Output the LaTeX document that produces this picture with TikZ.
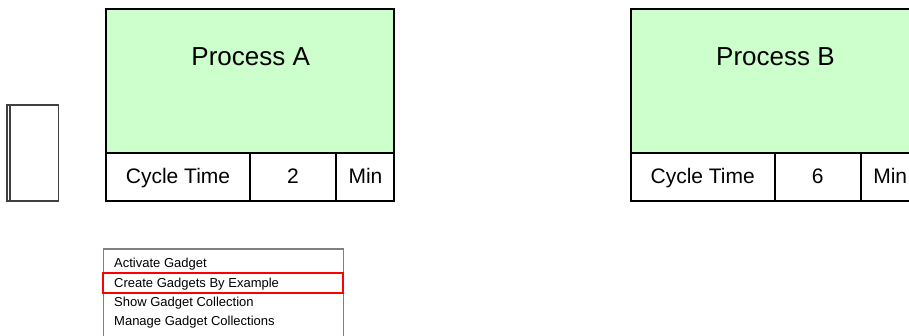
\documentclass[tikz,border=0pt]{standalone}
\usepackage{fontspec}
\setmainfont{Liberation Sans}
\definecolor{procgreen}{HTML}{CCFFCC}
\definecolor{darkline}{HTML}{404040}
\definecolor{menuline}{HTML}{808080}
\newcommand\drawprocess[4]{%
  % #1 left x, #2 name, #3 title, #4 value
  \fill[procgreen] (#1,8.7) rectangle ++(288,144.3);
  \fill[white] (#1,153) rectangle ++(288,47.7);
  \draw[procline] (#1,8.7) rectangle ++(288,192);
  \draw[procline] (#1,153) -- ++(288,0);
  \draw[procline] (#1+144,153) -- ++(0,47.7);
  \draw[procline] (#1+230,153) -- ++(0,47.7);
  \node[titletext, anchor=base] (#2title) at (#1+144.7,65) {#3};
  \node[celltext, anchor=base] (#2ct) at (#1+72,183) {Cycle Time};
  \node[celltext, anchor=base] (#2val) at (#1+187,183) {#4};
  \node[celltext, anchor=base] (#2unit) at (#1+259.5,183) {Min};
}
\begin{document}
\begin{tikzpicture}[x=1pt,y=-1pt,
  procline/.style={draw=black, line width=2pt},
  titletext/.style={font=\fontsize{26}{30}\selectfont, inner sep=0pt},
  celltext/.style={font=\fontsize{21}{25}\selectfont, inner sep=0pt},
  menutext/.style={font=\fontsize{13}{15}\selectfont, inner sep=0pt, anchor=base west},
  smallbox/.style={draw=darkline, line width=1.3pt},
  menubox/.style={draw=menuline, line width=1.3pt},
  hilite/.style={draw=red, line width=2pt}]
\useasboundingbox (0,0) rectangle (909,335);
\clip (0,0) rectangle (909,335);
% small double-edged rectangle
\draw[smallbox] (7,105) rectangle (58.3,201);
\draw[smallbox] (10,105) -- (10,201);
% process boxes
\drawprocess{106}{A}{Process A}{2}
\drawprocess{630.7}{B}{Process B}{6}
% menu
\draw[menubox] (103.3,249) rectangle (343.3,345);
\draw[hilite] (103.3,273.3) rectangle (342.7,292.7);
\node[menutext] (m1) at (114,267.7) {Activate Gadget};
\node[menutext] (m2) at (114,287) {Create Gadgets By Example};
\node[menutext] (m3) at (114,306.3) {Show Gadget Collection};
\node[menutext] (m4) at (114,325.3) {Manage Gadget Collections};
\end{tikzpicture}
\end{document}
